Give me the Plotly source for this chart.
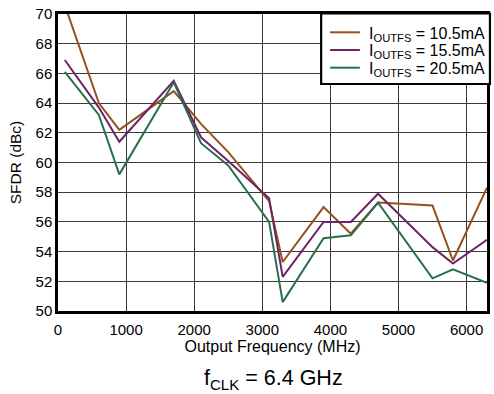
import plotly.graph_objects as go

freq = [100, 600, 900, 1700, 2100, 2500, 3100, 3300, 3900, 4300, 4700, 5500, 5800, 6300]
sfdr_10_5 = [70.6, 64.0, 62.2, 64.8, 62.6, 60.7, 57.4, 53.3, 57.0, 55.2, 57.3, 57.1, 53.4, 58.3]
sfdr_15_5 = [66.9, 63.7, 61.4, 65.5, 61.7, 60.1, 57.6, 52.3, 56.0, 56.0, 57.9, 54.3, 53.2, 54.8]
sfdr_20_5 = [66.1, 63.2, 59.2, 65.4, 61.3, 59.8, 56.0, 50.6, 54.9, 55.1, 57.3, 52.2, 52.8, 51.9]
names = ["I<sub>OUTFS</sub> = 10.5mA", "I<sub>OUTFS</sub> = 15.5mA", "I<sub>OUTFS</sub> = 20.5mA"]
colors = ["#96501f", "#6e2366", "#2a6e4e"]
x_ticks = [0, 1000, 2000, 3000, 4000, 5000, 6000]
y_ticks = [50, 52, 54, 56, 58, 60, 62, 64, 66, 68, 70]

FONT = "Arial, Liberation Sans, sans-serif"

fig = go.Figure()
for ys, nm, c in zip([sfdr_10_5, sfdr_15_5, sfdr_20_5], names, colors):
    fig.add_trace(go.Scatter(x=freq, y=ys, mode="lines", name=nm, showlegend=False,
                             line=dict(color=c, width=2)))

axis_common = dict(showgrid=True, gridcolor="#3a3a3a", gridwidth=1,
                   showline=True, linecolor="black", linewidth=2.5, mirror=True,
                   ticks="", zeroline=False,
                   tickfont=dict(family=FONT, size=15, color="black"))

fig.update_xaxes(range=[0, 6300], tickvals=x_ticks, ticklabelstandoff=3,
                 title=dict(text="Output Frequency (MHz)", font=dict(family=FONT, size=16, color="black"), standoff=2),
                 **axis_common)
fig.update_yaxes(range=[50, 70], tickvals=y_ticks,
                 title=dict(text="SFDR (dBc)", font=dict(family=FONT, size=15.5, color="black"), standoff=11),
                 **axis_common)

fig.add_annotation(text="f<sub>CLK</sub> = 6.4 GHz", xref="paper", yref="paper",
                   x=0.502, y=-0.229, xanchor="center", yanchor="middle", showarrow=False,
                   font=dict(family=FONT, size=21.5, color="black"))

# Legend box (drawn manually to match the compact reference legend)
fig.add_shape(type="rect", xref="paper", yref="paper",
              x0=0.6134, x1=1.0069, y0=0.7643, y1=1.0017,
              fillcolor="white", line=dict(color="black", width=2.2), layer="above")
row_y = [0.9384, 0.8788, 0.8192]
for nm, c, yy in zip(names, colors, row_y):
    fig.add_shape(type="line", xref="paper", yref="paper",
                  x0=0.6343, x1=0.7037, y0=yy, y1=yy,
                  line=dict(color=c, width=2), layer="above")
    fig.add_annotation(text=nm, xref="paper", yref="paper", x=0.7200, y=yy - 0.006,
                       xanchor="left", yanchor="middle", showarrow=False,
                       font=dict(family=FONT, size=16, color="black"))

fig.update_layout(
    width=494, height=394,
    margin=dict(l=58, r=4, t=14, b=83),
    plot_bgcolor="white", paper_bgcolor="white",
    font=dict(family=FONT, color="black"),
    showlegend=False,
)

fig.write_html("out.html", config={"displayModeBar": False},
               post_script="document.body.style.margin='0';document.body.style.overflow='hidden';")
